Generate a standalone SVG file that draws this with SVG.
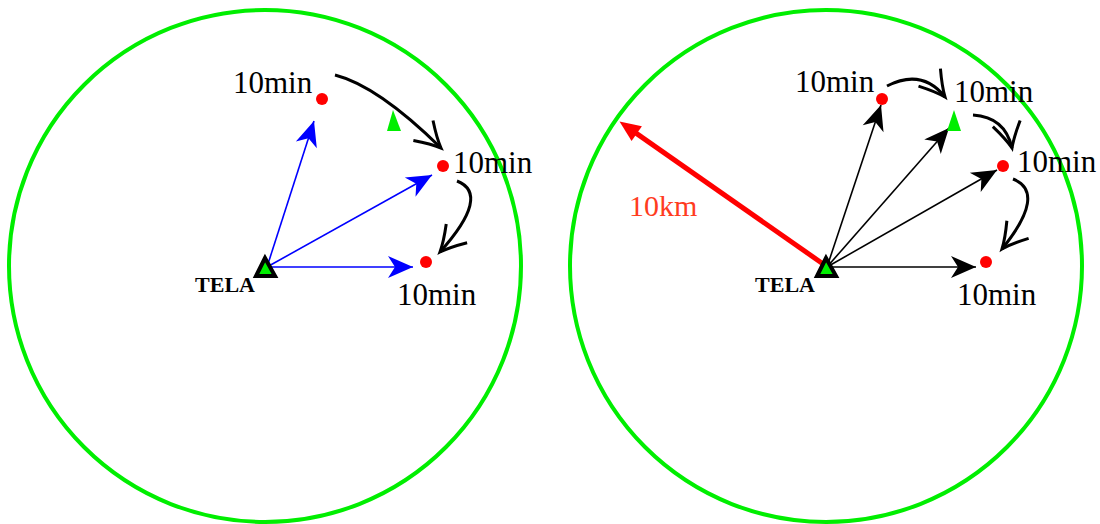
<svg xmlns="http://www.w3.org/2000/svg" width="1100" height="524" viewBox="0 0 1100 524">
<style>
.ring{fill:none;stroke:#00ee00;stroke-width:4}
.dot{fill:#ff0000}
.gtri{fill:#00ee00}
.tela{fill:#00ee00;stroke:#000;stroke-width:4;stroke-linejoin:miter}
.lbl{font-family:"Liberation Serif","Times New Roman",serif;font-size:31px;fill:#000}
.tl{font-family:"Liberation Serif","Times New Roman",serif;font-size:22px;font-weight:bold;fill:#000}
.km{font-family:"Liberation Serif","Times New Roman",serif;font-size:30px;fill:#ff3c1e}
.blue{stroke:#0000ff;stroke-width:1.6;fill:none;marker-end:url(#stb)}
.blk{stroke:#000;stroke-width:1.6;fill:none;marker-end:url(#stk)}
.cur{stroke:#000;stroke-width:3;fill:none;marker-end:url(#opn)}
.red{stroke:#ff0000;stroke-width:5;fill:none;marker-end:url(#rd)}
</style>
<defs>
<marker id="stb" markerUnits="userSpaceOnUse" viewBox="-30 -15 32 30" markerWidth="32" markerHeight="30" refX="0" refY="0" orient="auto" overflow="visible">
<path d="M0,0 L-25,-11 L-18,0 L-25,11 Z" fill="#0000ff"/>
</marker>
<marker id="stk" markerUnits="userSpaceOnUse" viewBox="-30 -15 32 30" markerWidth="32" markerHeight="30" refX="0" refY="0" orient="auto" overflow="visible">
<path d="M0,0 L-25,-11 L-18,0 L-25,11 Z" fill="#000"/>
</marker>
<marker id="opn" markerUnits="userSpaceOnUse" viewBox="-30 -16 32 32" markerWidth="32" markerHeight="32" refX="0" refY="0" orient="auto" overflow="visible">
<path d="M-25,-14 Q-10,-4 0,0 Q-10,4 -25,14" fill="none" stroke="#000" stroke-width="3" stroke-linecap="butt"/>
</marker>
<marker id="rd" markerUnits="userSpaceOnUse" viewBox="-24 -12 26 24" markerWidth="26" markerHeight="24" refX="-14" refY="0" orient="auto" overflow="visible">
<path d="M0,0 L-21,-9 L-21,9 Z" fill="#ff0000"/>
</marker>
</defs>

<g id="left-panel">
<circle id="left-ring" class="ring" cx="265" cy="266" r="256"/>
</g>
<g id="right-panel">
<circle id="right-ring" class="ring" cx="826" cy="266" r="256"/>
</g>

<g id="connectors">
<line class="blue" x1="267" y1="267" x2="314" y2="121"/>
<line class="blue" x1="267" y1="267" x2="432" y2="175"/>
<line class="blue" x1="267" y1="267" x2="413" y2="267"/>
<path class="cur" d="M335,75 Q378,86 441,148"/>
<path class="cur" d="M457,181 C480,190 474,214 440,252"/>

<line class="blk" x1="827" y1="267" x2="881" y2="105"/>
<line class="blk" x1="827" y1="267" x2="949" y2="128"/>
<line class="blk" x1="827" y1="267" x2="997" y2="170"/>
<line class="blk" x1="827" y1="267" x2="976" y2="267"/>
<path class="cur" d="M887,86 Q922,68 945,97"/>
<path class="cur" d="M973,115 Q1005,117 1012,148"/>
<path class="cur" d="M1013,179 C1036,188 1032,212 1002,249"/>
<line class="red" x1="826" y1="266" x2="631" y2="129.6"/>
</g>

<g id="tela-left">
<path class="tela" d="M265,258 L256,276 L275,276 Z"/>
<text class="tl" x="255" y="292" text-anchor="end">TELA</text>
</g>
<g id="tela-right">
<path class="tela" d="M826,258 L817,276 L836,276 Z"/>
<text class="tl" x="815" y="292" text-anchor="end">TELA</text>
</g>

<g id="left-nodes">
<g id="l-n1"><circle class="dot" cx="322" cy="99" r="6"/><text class="lbl" x="233" y="93">10min</text></g>
<g id="l-g"><path class="gtri" d="M393,110 L387,131 L401,131 Z"/></g>
<g id="l-n2"><circle class="dot" cx="443" cy="166" r="6"/><text class="lbl" x="453" y="173">10min</text></g>
<g id="l-n3"><circle class="dot" cx="426" cy="262" r="6"/><text class="lbl" x="397" y="305">10min</text></g>
</g>

<g id="right-nodes">
<g id="r-n1"><circle class="dot" cx="882" cy="99" r="6"/><text class="lbl" x="795" y="92">10min</text></g>
<g id="r-g"><path class="gtri" d="M954,110 L947,131 L961,131 Z"/><text class="lbl" x="954" y="102">10min</text></g>
<g id="r-n2"><circle class="dot" cx="1003" cy="166" r="6"/><text class="lbl" x="1017" y="172">10min</text></g>
<g id="r-n3"><circle class="dot" cx="986" cy="262" r="6"/><text class="lbl" x="957" y="305">10min</text></g>
<g id="r-km"><text class="km" x="629" y="216">10km</text></g>
</g>
</svg>
